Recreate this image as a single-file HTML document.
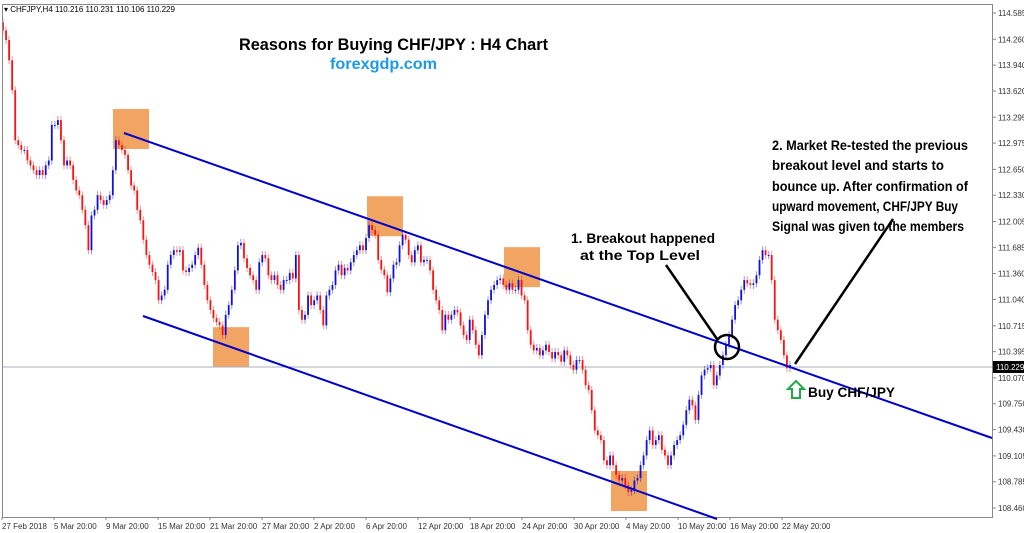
<!DOCTYPE html>
<html><head><meta charset="utf-8"><style>
html,body{margin:0;padding:0;background:#fff;}
svg{display:block;font-family:"Liberation Sans",sans-serif;}
</style></head><body>
<svg id="chart" width="1024" height="533" viewBox="0 0 1024 533" xmlns="http://www.w3.org/2000/svg">
<rect x="0" y="0" width="1024" height="533" fill="#fff"/>
<g id="boxes"></g>
<line x1="2" y1="367" x2="992" y2="367" stroke="#a8b0bc" stroke-width="1"/>
<g id="candles"></g>
<g id="yaxis"></g>
<g id="xaxis"></g>
<rect x="2.5" y="4.5" width="990" height="513" fill="none" stroke="#888" stroke-width="1"/>
<line x1="124" y1="133" x2="992" y2="438" stroke="#0000cc" stroke-width="2"/>
<line x1="143" y1="316" x2="717" y2="519" stroke="#0000cc" stroke-width="2"/>
<circle cx="727" cy="347" r="12" fill="none" stroke="#000" stroke-width="2.5"/>
<line x1="717" y1="339" x2="666" y2="265" stroke="#000" stroke-width="2.5"/>
<line x1="795" y1="364" x2="893" y2="219" stroke="#000" stroke-width="2.5"/>
<text x="4" y="12" font-size="8" fill="#000">▾ CHFJPY,H4  110.216 110.231 110.106 110.229</text>
<text x="239" y="50" font-size="17" font-weight="bold" fill="#000" textLength="309" lengthAdjust="spacingAndGlyphs">Reasons for Buying CHF/JPY : H4 Chart</text>
<text x="330" y="69" font-size="16" font-weight="bold" fill="#1b9be6" textLength="107" lengthAdjust="spacingAndGlyphs">forexgdp.com</text>
<text x="571" y="243" font-size="14" font-weight="bold" fill="#000" textLength="144" lengthAdjust="spacingAndGlyphs">1. Breakout happened</text>
<text x="580" y="260" font-size="14" font-weight="bold" fill="#000" textLength="120" lengthAdjust="spacingAndGlyphs">at the Top Level</text>
<g font-size="13.5" font-weight="bold" fill="#000">
<text x="772" y="150" textLength="196" lengthAdjust="spacingAndGlyphs">2. Market Re-tested the previous</text>
<text x="772" y="170" textLength="172" lengthAdjust="spacingAndGlyphs">breakout level and starts to</text>
<text x="772" y="191" textLength="196" lengthAdjust="spacingAndGlyphs">bounce up. After confirmation of</text>
<text x="772" y="211" textLength="186" lengthAdjust="spacingAndGlyphs">upward movement, CHF/JPY Buy</text>
<text x="772" y="231" textLength="192" lengthAdjust="spacingAndGlyphs">Signal was given to the members</text>
</g>
<path d="M796 381 L804 389 L800 389 L800 398 L792 398 L792 389 L788 389 Z" fill="#fff" stroke="#22aa44" stroke-width="2"/>
<text x="808" y="397" font-size="14" font-weight="bold" fill="#000" textLength="87" lengthAdjust="spacingAndGlyphs">Buy CHF/JPY</text>
<rect x="993" y="361" width="31" height="12" fill="#000"/>
<text x="996" y="370" font-size="8" fill="#fff">110.229</text>
</svg>
<script>
const closes = [114.37,114.25,114.00,113.63,113.01,112.95,112.89,112.89,112.76,112.70,112.64,112.58,112.64,112.58,112.70,112.76,113.20,113.20,113.26,113.01,112.70,112.76,112.70,112.52,112.39,112.33,112.15,111.96,111.65,112.08,112.15,112.33,112.27,112.21,112.27,112.33,112.64,113.01,112.95,112.89,112.83,112.64,112.45,112.39,112.15,112.02,111.78,111.59,111.47,111.38,111.28,111.03,111.09,111.16,111.47,111.59,111.65,111.63,111.65,111.40,111.38,111.43,111.47,111.59,111.68,111.47,111.22,111.03,110.91,110.81,110.76,110.72,110.60,110.85,110.97,111.16,111.40,111.71,111.74,111.55,111.43,111.34,111.28,111.16,111.50,111.59,111.55,111.34,111.28,111.34,111.22,111.16,111.28,111.28,111.37,111.30,111.59,110.91,110.79,110.85,111.09,110.97,111.03,111.09,110.91,110.72,111.09,111.16,111.22,111.40,111.47,111.34,111.43,111.40,111.50,111.59,111.65,111.71,111.65,111.80,111.96,111.90,111.84,111.53,111.41,111.34,111.13,111.30,111.47,111.50,111.71,111.84,111.78,111.59,111.50,111.65,111.71,111.50,111.53,111.53,111.40,111.16,111.03,110.91,110.66,110.85,110.79,110.85,110.91,110.88,110.72,110.60,110.54,110.79,110.66,110.48,110.35,110.60,110.85,111.03,111.16,111.22,111.28,111.30,111.22,111.16,111.24,111.16,111.16,111.28,111.09,111.03,110.66,110.48,110.41,110.44,110.35,110.41,110.48,110.39,110.31,110.39,110.35,110.27,110.41,110.35,110.23,110.17,110.29,110.29,110.17,109.98,109.92,109.67,109.42,109.36,109.30,109.05,108.99,109.11,108.99,108.87,108.80,108.83,108.74,108.66,108.68,108.80,108.83,108.99,109.11,109.30,109.42,109.24,109.30,109.36,109.18,109.11,108.99,109.11,109.24,109.30,109.36,109.49,109.67,109.80,109.73,109.55,109.86,110.10,110.17,110.19,110.23,109.98,110.10,110.23,110.35,110.48,110.60,110.79,110.97,111.03,111.16,111.28,111.24,111.22,111.24,111.34,111.53,111.65,111.59,111.59,111.28,110.79,110.66,110.54,110.35,110.19,110.23];
const yTickLabels = ["114.585","114.260","113.940","113.620","113.295","112.975","112.650","112.330","112.005","111.685","111.360","111.040","110.715","110.395","110.070","109.750","109.430","109.105","108.785","108.460"];
const xTickLabels = ["27 Feb 2018","5 Mar 20:00","9 Mar 20:00","15 Mar 20:00","21 Mar 20:00","27 Mar 20:00","2 Apr 20:00","6 Apr 20:00","12 Apr 20:00","18 Apr 20:00","24 Apr 20:00","30 Apr 20:00","4 May 20:00","10 May 20:00","16 May 20:00","22 May 20:00"];
const boxCenters = [113.15,110.45,112.07,111.44,108.67];

const NS="http://www.w3.org/2000/svg";
const pMax=114.585,pMin=108.460,yTop=13,yBot=508;
function yScale(p){return yTop+(pMax-p)/(pMax-pMin)*(yBot-yTop);}
const x0=3,x1=790;
function xScale(i){return x0+i*(x1-x0)/(closes.length-1);}
function mk(tag,attrs,parent){const e=document.createElementNS(NS,tag);for(const k in attrs)e.setAttribute(k,attrs[k]);parent.appendChild(e);return e;}

const cg=document.getElementById('candles');
for(let i=0;i<closes.length;i++){
  const o=i===0?closes[0]+0.1:closes[i-1], c=closes[i];
  const x=xScale(i), yo=yScale(o), yc=yScale(c);
  const up=c>=o, col=up?'#1010dd':'#ff1010';
  const top=Math.min(yo,yc), bot=Math.max(yo,yc);
  const w=mk('line',{x1:x,x2:x,y1:top-4,y2:bot+4,stroke:col,'stroke-width':1,'stroke-opacity':0.45},cg);
  
  
  const b=mk('rect',{x:x-0.9,y:top,width:1.8,height:Math.max(1,bot-top),fill:col},cg);
  
  
}

const yg=document.getElementById('yaxis');
yTickLabels.forEach((t,i)=>{
  const y=yScale(parseFloat(t));
  const tk=mk('line',{x1:993,x2:996,y1:y,y2:y,stroke:'#888'},yg);
  
  
  const tx=mk('text',{x:998,y:y+3,'font-size':8,fill:'#333'},yg);
  tx.textContent=t;
  
  
});

const xg=document.getElementById('xaxis');
xTickLabels.forEach((t,i)=>{
  const x=2+i*52;
  const tk=mk('line',{x1:x,x2:x,y1:517,y2:520,stroke:'#888'},xg);
  
  
  const tx=mk('text',{x:x,y:529,'font-size':8,fill:'#333'},xg);
  tx.textContent=t;
  
  
});

const bg=document.getElementById('boxes');
const boxX=[113,213,367,504,611];
boxCenters.forEach((p,i)=>{
  const yc=yScale(p);
  const r=mk('rect',{x:boxX[i],y:yc-20,width:36,height:40,fill:'#f2a463'},bg);
  
  
});
</script>
</body></html>
